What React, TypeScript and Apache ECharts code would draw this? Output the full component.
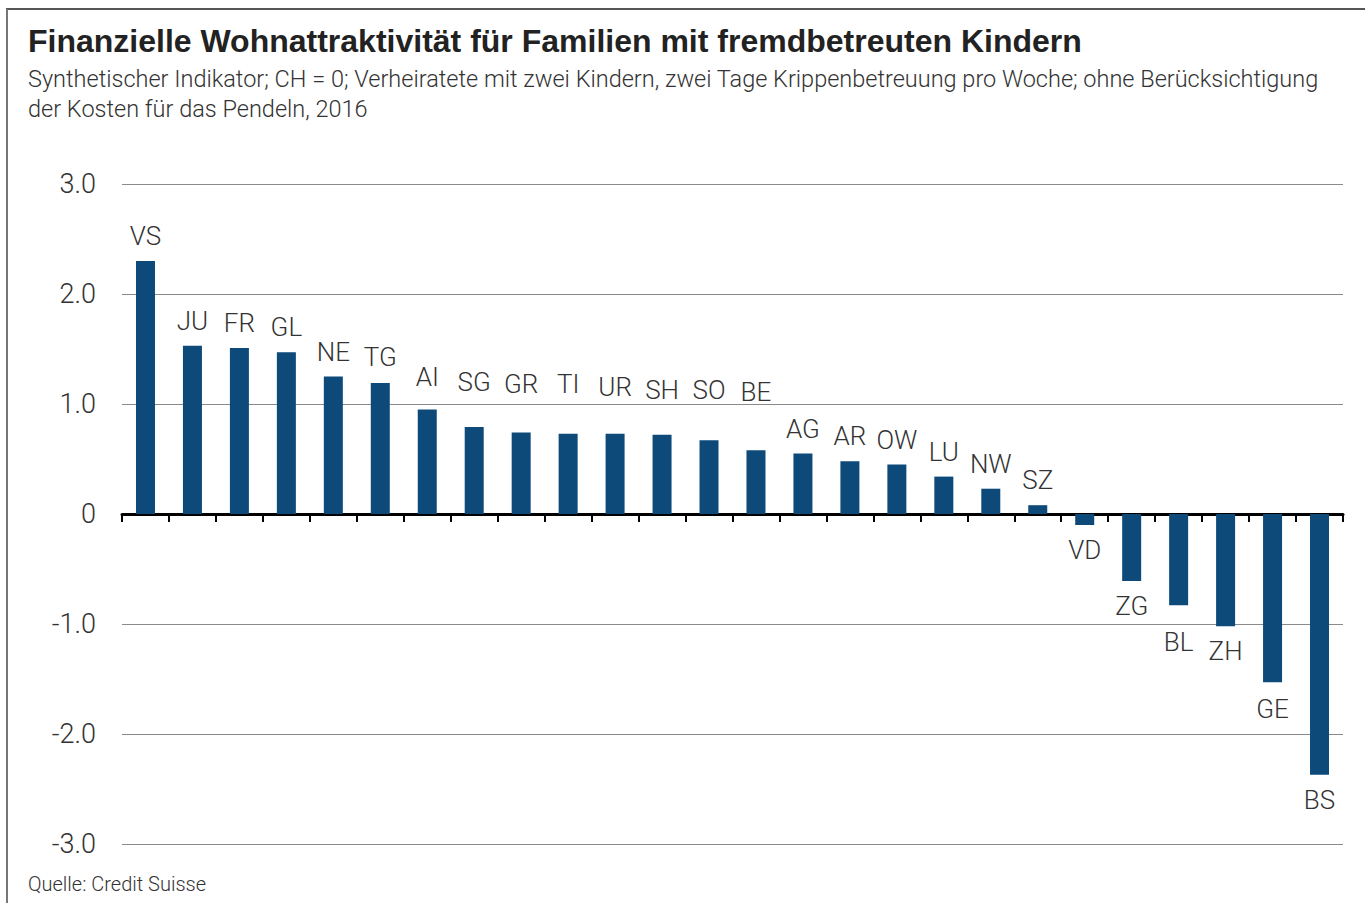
import React, { useEffect, useRef } from "react";
import * as echarts from "echarts";

const cantons = ["VS","JU","FR","GL","NE","TG","AI","SG","GR","TI","UR","SH","SO","BE","AG","AR","OW","LU","NW","SZ","VD","ZG","BL","ZH","GE","BS"];
const values = [2.30,1.53,1.51,1.47,1.25,1.19,0.95,0.79,0.74,0.73,0.73,0.72,0.67,0.58,0.55,0.48,0.45,0.34,0.23,0.08,-0.10,-0.61,-0.83,-1.02,-1.53,-2.37];
// extra label lift (px) used in the original layout to avoid overlaps
const labelLift = [0,0,0,0,0,1,8,20,24,25,22,20,25,33,0,0,0,0,0,0,0,0,12,0,2,0];
const yTicks = [-3, -2, -1, 0, 1, 2, 3];

const FONT = "Roboto, 'Liberation Sans', sans-serif";

export default function App() {
  const ref = useRef<HTMLDivElement>(null);
  useEffect(() => {
    const chart = echarts.init(ref.current!, null, { renderer: "svg" });
    chart.setOption({
      animation: false,
      backgroundColor: "#fff",
      textStyle: { fontFamily: FONT },
      grid: { left: 122, right: 22, top: 184, bottom: 59 },
      xAxis: {
        type: "category",
        data: cantons,
        boundaryGap: true,
        axisLine: { onZero: true, lineStyle: { color: "#000", width: 3 } },
        axisTick: { show: true, alignWithLabel: false, length: 8, lineStyle: { color: "#000", width: 2 } },
        axisLabel: { show: false },
      },
      yAxis: {
        type: "value",
        min: yTicks[0],
        max: yTicks[yTicks.length - 1],
        interval: 1,
        axisLine: { show: false },
        axisTick: { show: false },
        splitLine: { lineStyle: { color: "#8a8a8a", width: 1 } },
        axisLabel: {
          color: "#333",
          fontSize: 27,
          fontWeight: 300,
          margin: 26,
          fontFamily: FONT,
          formatter: (v: number) => (v === 0 ? "0" : v.toFixed(1)),
        },
      },
      series: [
        {
          type: "bar",
          barWidth: 19,
          itemStyle: { color: "#0d4a7a" },
          data: values.map((v, i) => ({
            value: v,
            label: {
              show: true,
              position: v >= 0 ? "top" : "bottom",
              distance: 12 + labelLift[i],
              formatter: cantons[i],
              color: "#333",
              fontSize: 26,
              fontWeight: 300,
              fontFamily: FONT,
            },
          })),
        },
      ],
      graphic: [
        { type: "line", shape: { x1: 6, y1: 9, x2: 1365, y2: 9 }, style: { stroke: "#555", lineWidth: 2 } },
        { type: "line", shape: { x1: 7, y1: 9, x2: 7, y2: 903 }, style: { stroke: "#777", lineWidth: 2 } },
        {
          type: "text", left: 28, top: 25,
          style: { text: "Finanzielle Wohnattraktivität für Familien mit fremdbetreuten Kindern", fontSize: 32, fontWeight: "bold", fill: "#222", fontFamily: "'Liberation Sans', Arial, sans-serif" },
        },
        {
          type: "text", left: 28, top: 64,
          style: { text: "Synthetischer Indikator; CH = 0; Verheiratete mit zwei Kindern, zwei Tage Krippenbetreuung pro Woche; ohne Berücksichtigung\nder Kosten für das Pendeln, 2016", fontSize: 23.5, lineHeight: 30, fontWeight: 300, fill: "#333", fontFamily: FONT },
        },
        {
          type: "text", left: 28, top: 874,
          style: { text: "Quelle: Credit Suisse", fontSize: 20, fontWeight: 300, fill: "#333", fontFamily: FONT },
        },
      ],
    });
    return () => chart.dispose();
  }, []);
  return <div ref={ref} style={{ position: "absolute", left: 0, top: 0, width: 1365, height: 903 }} />;
}
